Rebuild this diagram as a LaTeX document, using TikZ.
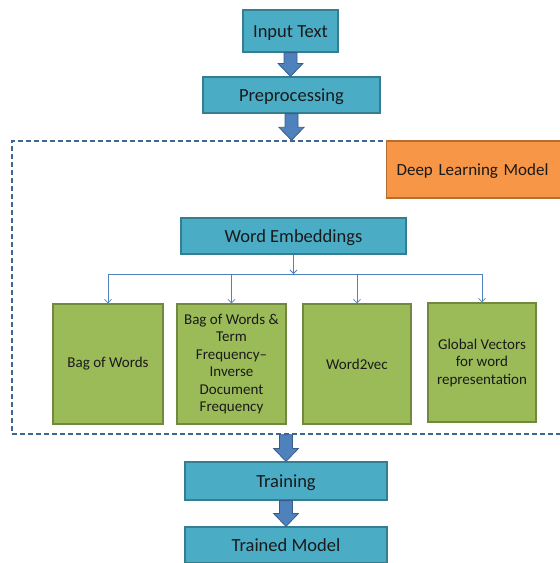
\documentclass[tikz,border=0pt]{standalone}
\usepackage{fontspec}
\setmainfont{Carlito}
\usetikzlibrary{arrows.meta,positioning,calc}
\definecolor{tealfill}{HTML}{4BACC6}
\definecolor{tealline}{HTML}{357D91}
\definecolor{greenfill}{HTML}{9BBB59}
\definecolor{greenline}{HTML}{71893F}
\definecolor{orangefill}{HTML}{F79646}
\definecolor{orangeline}{HTML}{B66D31}
\definecolor{arrfill}{HTML}{4F81BD}
\definecolor{arrline}{HTML}{385D8A}
\definecolor{frameline}{HTML}{3F6592}
\definecolor{textdark}{HTML}{1A1A1A}

% block arrow between two points (vertical)
\newcommand{\blockarrow}[2]{%
  \filldraw[bigarr] let \p1=(#1), \p2=(#2) in
    (\x1-6.5pt,\y1) -- (\x1-6.5pt,\y2+13pt) -- (\x1-12.5pt,\y2+13pt) -- (\x1,\y2)
    -- (\x1+12.5pt,\y2+13pt) -- (\x1+6.5pt,\y2+13pt) -- (\x1+6.5pt,\y1) -- cycle;}

\begin{document}
\begin{tikzpicture}[x=1pt,y=-1pt,
  stage/.style={draw=tealline,fill=tealfill,line width=1.2pt,text=textdark,
    font=\fontsize{18.5}{22}\selectfont,inner sep=0pt,text height=15pt,text depth=2pt},
  method/.style={draw=greenline,fill=greenfill,line width=1.2pt,text=textdark,
    font=\fontsize{15}{17.5}\selectfont,align=center,inner sep=0pt,minimum height=120pt},
  dlframe/.style={draw=frameline,line width=1.4pt,dash pattern=on 5pt off 3pt},
  conn/.style={draw=arrfill,line width=0.8pt},
  tip/.style={-{Straight Barb[length=3.5pt,width=7pt]}},
  bigarr/.style={fill=arrfill,draw=arrline,line width=0.8pt}]
  \useasboundingbox (0,0) rectangle (560,563);
  \clip (0,0) rectangle (560,563);

  % pipeline stages
  \node[stage,minimum width=95pt,minimum height=42pt] (input) at (290.5,31) {Input Text};
  \node[stage,minimum width=177pt,minimum height=36pt] (prep) at (291.5,95) {Preprocessing};
  \node[dlframe,minimum width=563pt,minimum height=293pt] (dl) at (293.5,287.5) {};
  \node[stage,minimum width=202pt,minimum height=38pt] (train) at (286,481) {Training};
  \node[stage,minimum width=202pt,minimum height=36pt] (model) at (286,545) {Trained Model};

  % inside the dashed frame
  \node[draw=orangeline,fill=orangefill,line width=1.2pt,text=textdark,anchor=west,
    font=\fontsize{17}{21}\selectfont,text width=180pt,inner xsep=10pt,align=left,
    text height=14pt,text depth=2pt,minimum height=57pt] (dlm) at (386,169.5) {Deep Learning Model};
  \node[stage,minimum width=225pt,minimum height=36pt] (we) at (293.5,236) {Word Embeddings};

  \node[method,minimum width=110pt] (bow) at (108,364) {Bag of Words};
  \node[method,minimum width=109pt] (tfidf) at (231.5,364)
    {Bag of Words \&\\Term\\Frequency--\\Inverse\\Document\\Frequency};
  \node[method,minimum width=108pt] (w2v) at (357,364) {Word2vec};
  \node[method,minimum width=108pt,minimum height=119pt] (glove) at (482,362.5)
    {Global Vectors\\for word\\representation};

  % connectors
  \coordinate (jn) at (we.south |- 0,274);
  \draw[conn,tip] (we.south) -- (jn);
  \draw[conn] (bow.north |- jn) -- (glove.north |- jn);
  \foreach \m in {bow,tfidf,w2v,glove}
    \draw[conn,tip] (\m.north |- jn) -- (\m.north);

  \blockarrow{input.south}{prep.north}
  \blockarrow{prep.south}{prep.south |- dl.north}
  \blockarrow{train.north |- dl.south}{train.north}
  \blockarrow{train.south}{model.north}
\end{tikzpicture}
\end{document}
